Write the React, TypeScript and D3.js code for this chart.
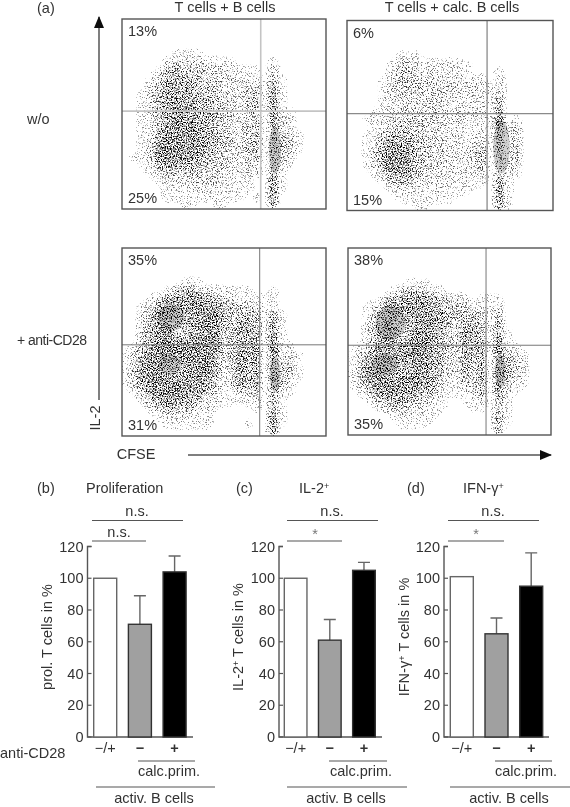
import React from "react";
import * as d3 from "d3";

// Event density of each dot plot on a 25 x 24 grid (0-9, top row first).
// The picture holds thousands of single events that cannot be read one by one, so these
// grids are what gets drawn; the grain on top is only a texture filter, not data.
const densityTopLeft = [
  "0000000000000000000000000", "0000000000000000000000000", "0000000000000000000000000", "0000000000000000000000000",
  "0000001111000000000000000", "0000023333221100002000000", "0000145444333211103000000", "0001356554433322204100000",
  "0002466655442223316100000", "0013567665443224407100000", "0013567665543224417100000", "0012467775554324407110000",
  "0012467776654323407220000", "0012468776543223406330000", "0012578887654323506341000", "0013688887654324506441000",
  "0013798877654334506342000", "0113798776544323405330000", "0012576655433223305210000", "0001344444332222206100000",
  "0000122233332111008100000", "0000011122222111007100000", "0000011111121110107000000", "0000000110011000006000000",
];
const densityTopRight = [
  "0000000000000000000000000", "0000000000000000000000000", "0000000000000000000000000", "0000000000000000000000000",
  "0000001110000000000000000", "0000013321122110000000000", "0000024432222210001000000", "0000134433322222202000000",
  "0000133443333323213000000", "0000133332332223214000000", "0000122333322222216000000", "0001123333322222215000000",
  "0012233443333322228010000", "0001234443332211127230000", "0012455543322212217230000", "0013577654332213316240000",
  "0014688754332224416240000", "0014798754332223405240000", "0013688644332223405230000", "0001466543322222305210000",
  "0000134432222111106100000", "0000012221221110007100000", "0000001111111000007100000", "0000000011000000006100000",
];
const densityBottomLeft = [
  "0000000000000000000000000", "0000000000000000000000000", "0000000000000000000000000", "0000000000000000000000000",
  "0000000121000000000000000", "0000014554322211001000000", "0001367777643212111000000", "0013687778875543312000000",
  "0024786667886445516100000", "0025785567874465516100000", "0035784457884475507100000", "0035785578883465518100000",
  "0146888889872476609110000", "1357888888873476608231000", "1368876678862476505341000", "1478865578762475606441000",
  "1478876678751465607431000", "1368888877641364606420000", "0147888776531133505210000", "0024677654321112305100000",
  "0002455443210000105100000", "0000122221100000008100000", "0000011111100001007100000", "0000000000000000006000000",
];
const densityBottomRight = [
  "0000000000000000000000000", "0000000000000000000000000", "0000000000000000000000000", "0000000000000000000000000",
  "0000000111000000000000000", "0000013443210000000000000", "0000356776543220111000000", "0013577787654432112000000",
  "0014675677765544314000000", "0025764578764355415000000", "0035774478663366416100000", "0025774578753365407100000",
  "0136776788654365517110000", "1357777888653265508331000", "1367866677653364606442000", "1477755677553363607542000",
  "1478766777542263617532000", "1368887776531143606421000", "0147787765431123506310000", "0014566543210011305100000",
  "0001344322110001104100000", "0000012221100000006100000", "0000001111000000005100000", "0000000000000000004000000",
];

// Solid grey cores of the densest populations: [CFSE, IL-2, radius CFSE, radius IL-2], 0-1000 channels
const coresTopLeft = [[750, 310, 30, 125]];
const coresTopRight = [[750, 335, 40, 140]];
const coresBottomLeft = [[750, 330, 26, 95], [240, 630, 65, 70], [235, 380, 55, 55]];
const coresBottomRight = [[750, 340, 26, 90], [210, 600, 75, 90], [180, 375, 65, 60]];

const gatesTopLeft = [680, 515];
const gatesTopRight = [680, 510];
const gatesBottomLeft = [675, 485];
const gatesBottomRight = [680, 480];

const percentsTopLeft = ["13%", "25%"];
const percentsTopRight = ["6%", "15%"];
const percentsBottomLeft = ["35%", "31%"];
const percentsBottomRight = ["38%", "35%"];

const barGroups = ["-/+", "-", "+"];
const barTickLabels = ["\u2212/+", "\u2212", "+"];
const valuesProliferation = [100, 71, 104];
const errorsProliferation = [null, 89, 114];
const valuesIL2 = [100, 61, 105];
const errorsIL2 = [null, 74, 110];
const valuesIFN = [101, 65, 95];
const errorsIFN = [null, 75, 116];
const barFills = ["#ffffff", "#a0a0a0", "#000000"];

const FONT = "'Liberation Sans', Arial, sans-serif";
const INK = "#333";
const TEXT = 14.5;

function DotPlot({ id, x, y, w, h, density, cores, gates, percents, gateColor, gateWidth }: any) {
  const nx = density[0].length;
  const ny = density.length;
  const values = density.flatMap((row: string) => Array.from(row, Number));

  const sx = d3.scaleLinear().domain([0, nx]).range([x, x + w]);
  const sy = d3.scaleLinear().domain([0, ny]).range([y, y + h]);
  const chX = d3.scaleLinear().domain([0, 1000]).range([x, x + w]);
  const chY = d3.scaleLinear().domain([0, 1000]).range([y + h, y]);

  const path = d3.geoPath(
    d3.geoTransform({
      point(px, py) {
        this.stream.point(sx(px), sy(py));
      },
    })
  );
  const bands = d3.contours().size([nx, ny]).smooth(true).thresholds(d3.range(0.25, 9, 0.5))(values);

  return (
    <g>
      {cores.map((c: number[], i: number) => (
        <ellipse
          key={i}
          cx={chX(c[0])}
          cy={chY(c[1])}
          rx={chX(c[2]) - chX(0)}
          ry={chY(0) - chY(c[3])}
          fill="#d2d2d2"
        />
      ))}
      <g clipPath={`url(#clip-${id})`}>
        <g filter="url(#grain)">
          {bands.map((b, i) => (
            <path key={i} d={path(b) || ""} fill="#000" fillOpacity={0.05} />
          ))}
        </g>
      </g>
      <clipPath id={`clip-${id}`}>
        <rect x={x} y={y} width={w} height={h} />
      </clipPath>
      <line x1={chX(gates[0])} x2={chX(gates[0])} y1={y} y2={y + h} stroke={gateColor} strokeWidth={gateWidth} />
      <line x1={x} x2={x + w} y1={chY(gates[1])} y2={chY(gates[1])} stroke={gateColor} strokeWidth={gateWidth} />
      <rect x={x} y={y} width={w} height={h} fill="none" stroke="#555" strokeWidth={1.4} />
      <text x={x + 6} y={y + 17} fontSize={TEXT} fill={INK}>{percents[0]}</text>
      <text x={x + 6} y={y + h - 6} fontSize={TEXT} fill={INK}>{percents[1]}</text>
    </g>
  );
}

function BarPanel({ axisX, barsX, barsW, end, values, errors, ylabel, ylabelX, top, second, secondEnd, secondIsStar, secondX, topX, lineX, calc, activ }: any) {
  const y = d3.scaleLinear().domain([0, 120]).range([737, 546.5]);
  const x = d3.scaleBand().domain(barGroups).range([barsX, barsX + barsW]).paddingInner(0.337).paddingOuter(0);
  return (
    <g>
      <path d={`M${axisX + 4},${y(120)}H${axisX}V${y(0)}H${end}`} fill="none" stroke="#555" strokeWidth={1.4} />
      {y.ticks(6).map((t) => (
        <g key={t}>
          <line x1={axisX} x2={axisX + 4} y1={y(t)} y2={y(t)} stroke="#555" strokeWidth={1.2} />
          <text x={axisX - 4} y={y(t) + 5} textAnchor="end" fontSize={14.5} fill={INK}>{t}</text>
        </g>
      ))}
      {barGroups.map((g, i) => {
        const cx = (x(g) as number) + x.bandwidth() / 2;
        return (
          <g key={g}>
            {errors[i] !== null && (
              <path
                d={`M${cx},${y(values[i])}V${y(errors[i])}M${cx - 6},${y(errors[i])}h12`}
                fill="none"
                stroke="#666"
                strokeWidth={1.4}
              />
            )}
            <rect
              x={x(g)}
              y={y(values[i])}
              width={x.bandwidth()}
              height={y(0) - y(values[i])}
              fill={barFills[i]}
              stroke={i === 0 ? "#666" : "#333"}
              strokeWidth={1.4}
            />
            <text x={cx} y={753} textAnchor="middle" fontSize={TEXT} fontWeight={i === 0 ? 400 : 700} fill={INK}>
              {barTickLabels[i]}
            </text>
          </g>
        );
      })}
      <text transform={`translate(${ylabelX},637) rotate(-90)`} textAnchor="middle" fontSize={TEXT} fill={INK}>
        {ylabel}
      </text>
      <line x1={lineX} x2={top} y1={520.5} y2={520.5} stroke="#555" strokeWidth={1.2} />
      <text x={topX} y={516} textAnchor="middle" fontSize={TEXT} fill={INK}>n.s.</text>
      <line x1={lineX} x2={secondEnd} y1={541} y2={541} stroke="#555" strokeWidth={1.2} />
      <text x={secondX} y={secondIsStar ? 539 : 537} textAnchor="middle" fontSize={TEXT} fill={secondIsStar ? "#777" : INK}>
        {second}
      </text>
      <line x1={calc[0]} x2={calc[1]} y1={761} y2={761} stroke="#555" strokeWidth={1.2} />
      <text x={calc[2]} y={776} textAnchor="middle" fontSize={TEXT} fill={INK}>calc.prim.</text>
      <line x1={activ[0]} x2={activ[1]} y1={787} y2={787} stroke="#555" strokeWidth={1.2} />
      <text x={activ[2]} y={803} textAnchor="middle" fontSize={TEXT} fill={INK}>activ. B cells</text>
    </g>
  );
}

export default function App() {
  return (
    <svg
      width={570}
      height={807}
      style={{ position: "absolute", left: 0, top: 0, background: "#fff" }}
      fontFamily={FONT}
    >
      <defs>
        <filter id="grain" x="0" y="0" width="1" height="1" colorInterpolationFilters="sRGB">
          <feTurbulence type="fractalNoise" baseFrequency="0.8" numOctaves={2} seed={7} result="noise" />
          <feColorMatrix
            in="noise"
            type="matrix"
            values="0 0 0 0 0  0 0 0 0 0  0 0 0 0 0  2.6 0 0 0 -0.8"
            result="speckle"
          />
          <feComposite in="SourceAlpha" in2="speckle" operator="arithmetic" k1="0" k2="0.95" k3="1" k4="-0.82" />
          <feComponentTransfer result="dots">
            <feFuncA type="linear" slope="1.7" intercept="0" />
          </feComponentTransfer>
          {/* no grain outside the outermost density band */}
          <feComponentTransfer in="SourceAlpha" result="mask">
            <feFuncA type="linear" slope="20" intercept="0" />
          </feComponentTransfer>
          <feComposite in="dots" in2="mask" operator="in" result="kept" />
          <feGaussianBlur in="kept" stdDeviation="0.35" />
        </filter>
        <filter id="soft" x="0" y="0" width="1" height="1" filterUnits="objectBoundingBox">
          <feGaussianBlur stdDeviation="0.35" />
        </filter>
        <marker id="arrow" viewBox="0 0 12 10" refX="11" refY="5" markerUnits="userSpaceOnUse" markerWidth="12" markerHeight="10" orient="auto">
          <path d="M0,0L12,5L0,10Z" fill="#111" />
        </marker>
      </defs>

      <g filter="url(#soft)">
        <rect width={570} height={807} fill="#fff" />
        <text x={37} y={13} fontSize={TEXT} fill={INK}>(a)</text>
        <text x={225} y={12} textAnchor="middle" fontSize={TEXT} fill={INK}>T cells + B cells</text>
        <text x={452} y={12} textAnchor="middle" fontSize={TEXT} fill={INK}>T cells + calc. B cells</text>
        <text x={27} y={124} fontSize={TEXT} fill={INK}>w/o</text>
        <text x={17} y={345} fontSize={14} textLength={70} fill={INK}>+ anti-CD28</text>

        <line x1={99} x2={99} y1={400} y2={17} stroke="#555" strokeWidth={1.5} markerEnd="url(#arrow)" />
        <text transform="translate(100,418) rotate(-90)" textAnchor="middle" fontSize={TEXT} fill={INK}>IL-2</text>
        <text x={136} y={459} textAnchor="middle" fontSize={TEXT} fill={INK}>CFSE</text>
        <line x1={188} x2={551} y1={455} y2={455} stroke="#555" strokeWidth={1.5} markerEnd="url(#arrow)" />

        <DotPlot id="tl" x={122} y={19} w={204} h={190} density={densityTopLeft} cores={coresTopLeft} gates={gatesTopLeft} percents={percentsTopLeft} gateColor="#c4c4c4" gateWidth={1.6} />
        <DotPlot id="tr" x={347} y={20.5} w={206} h={190} density={densityTopRight} cores={coresTopRight} gates={gatesTopRight} percents={percentsTopRight} gateColor="#8a8a8a" gateWidth={1.3} />
        <DotPlot id="bl" x={122} y={248} w={204} h={188} density={densityBottomLeft} cores={coresBottomLeft} gates={gatesBottomLeft} percents={percentsBottomLeft} gateColor="#777" gateWidth={1} />
        <DotPlot id="br" x={348} y={248} w={203} h={187} density={densityBottomRight} cores={coresBottomRight} gates={gatesBottomRight} percents={percentsBottomRight} gateColor="#777" gateWidth={1} />

        <text x={37} y={493} fontSize={TEXT} fill={INK}>(b)</text>
        <text x={86} y={493} fontSize={TEXT} fill={INK}>Proliferation</text>
        <text x={236} y={493} fontSize={TEXT} fill={INK}>(c)</text>
        <text x={299} y={493} fontSize={TEXT} fill={INK}>IL-2<tspan fontSize={9} dy={-4}>+</tspan></text>
        <text x={407} y={493} fontSize={TEXT} fill={INK}>(d)</text>
        <text x={463} y={493} fontSize={TEXT} fill={INK}>IFN-γ<tspan fontSize={9} dy={-4}>+</tspan></text>
        <text x={0} y={758} fontSize={TEXT} fill={INK}>anti-CD28</text>

        <BarPanel
          axisX={87.5} barsX={93.7} barsW={92.4} end={193}
          values={valuesProliferation} errors={errorsProliferation}
          ylabel="prol. T cells in %" ylabelX={52}
          lineX={92} top={183} topX={137} second="n.s." secondEnd={146} secondX={119}
          calc={[138, 195, 169]} activ={[96, 215, 154]}
        />
        <BarPanel
          axisX={279} barsX={284.3} barsW={91} end={382}
          values={valuesIL2} errors={errorsIL2}
          ylabel={<>IL-2<tspan fontSize={9} dy={-4}>+</tspan><tspan dy={4}> T cells in %</tspan></>} ylabelX={243}
          lineX={287} top={378} topX={332} second="*" secondIsStar secondEnd={342} secondX={315}
          calc={[329, 387, 361]} activ={[287, 407, 346]}
        />
        <BarPanel
          axisX={444} barsX={450.3} barsW={92.4} end={549}
          values={valuesIFN} errors={errorsIFN}
          ylabel={<>IFN-γ<tspan fontSize={9} dy={-4}>+</tspan><tspan dy={4}> T cells in %</tspan></>} ylabelX={409}
          lineX={448} top={539} topX={493} second="*" secondIsStar secondEnd={504} secondX={476}
          calc={[495, 552, 526]} activ={[450, 570, 509]}
        />
      </g>
    </svg>
  );
}
